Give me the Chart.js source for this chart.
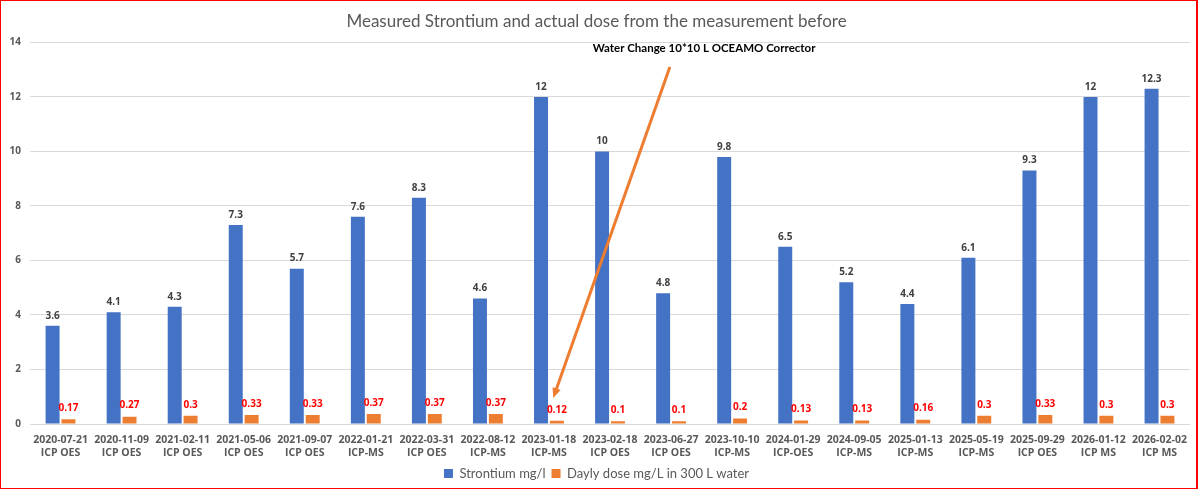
<!DOCTYPE html>
<html>
<head>
<meta charset="utf-8">
<script src="https://cdn.jsdelivr.net/npm/chart.js@4"></script>
<style>
  html, body { margin: 0; padding: 0; background: #fff; }
  #wrap {
    position: relative; width: 1195px; height: 487px;
    border: 1px solid #ff0000; border-right-width: 2px;
  }
</style>
</head>
<body>
<div id="wrap"><canvas id="chart"></canvas></div>
<script>
const dates = ["2020-07-21", "2020-11-09", "2021-02-11", "2021-05-06", "2021-09-07",
  "2022-01-21", "2022-03-31", "2022-08-12", "2023-01-18", "2023-02-18",
  "2023-06-27", "2023-10-10", "2024-01-29", "2024-09-05", "2025-01-13",
  "2025-05-19", "2025-09-29", "2026-01-12", "2026-02-02"];
const methods = ["ICP OES", "ICP OES", "ICP OES", "ICP OES", "ICP OES",
  "ICP-MS", "ICP OES", "ICP-MS", "ICP-MS", "ICP OES",
  "ICP OES", "ICP-MS", "ICP-OES", "ICP-MS", "ICP-MS",
  "ICP-MS", "ICP OES", "ICP MS", "ICP MS"];
const strontium = [3.6, 4.1, 4.3, 7.3, 5.7, 7.6, 8.3, 4.6, 12, 10, 4.8, 9.8, 6.5, 5.2, 4.4, 6.1, 9.3, 12, 12.3];
const dailyDose = [0.17, 0.27, 0.3, 0.33, 0.33, 0.37, 0.37, 0.37, 0.12, 0.1, 0.1, 0.2, 0.13, 0.13, 0.16, 0.3, 0.33, 0.3, 0.3];

// annotation, in data units (category index, y value)
const noteText = "Water Change 10*10 L OCEAMO Corrector";
const notePos = [10.54, 13.78];
const arrowFrom = [9.98, 13.1];
const arrowTo = [8.07, 0.95];

const labels = dates.map((d, i) => [d, methods[i]]);
const boldFont = "'Open Sans', 'Liberation Sans', sans-serif";

const valueLabels = {
  id: "valueLabels",
  afterDatasetsDraw(chart) {
    const ctx = chart.ctx;
    ctx.save();
    ctx.textAlign = "center";
    ctx.textBaseline = "bottom";
    chart.data.datasets.forEach((ds, di) => {
      const meta = chart.getDatasetMeta(di);
      ctx.font = "bold 10px " + boldFont;
      ctx.fillStyle = di === 0 ? "#404040" : "#ff0000";
      meta.data.forEach((bar, i) => {
        ctx.fillText(String(ds.data[i]), bar.x, bar.y - (di === 0 ? 5 : 6));
      });
    });
    ctx.restore();
  }
};

const arrowNote = {
  id: "arrowNote",
  afterDraw(chart) {
    const { ctx, scales: { x, y } } = chart;
    const px = (v) => x.getPixelForValue(v);
    ctx.save();
    ctx.font = "bold 11.5px Lato, 'Liberation Sans', sans-serif";
    ctx.fillStyle = "#000";
    ctx.textAlign = "center";
    ctx.textBaseline = "middle";
    ctx.fillText(noteText, px(notePos[0]), y.getPixelForValue(notePos[1]));

    const x1 = px(arrowFrom[0]), y1 = y.getPixelForValue(arrowFrom[1]);
    const x2 = px(arrowTo[0]), y2 = y.getPixelForValue(arrowTo[1]);
    const ang = Math.atan2(y2 - y1, x2 - x1);
    const head = 11;
    ctx.strokeStyle = "#ed7d31";
    ctx.fillStyle = "#ed7d31";
    ctx.lineWidth = 3;
    ctx.beginPath();
    ctx.moveTo(x1, y1);
    ctx.lineTo(x2 - Math.cos(ang) * head * 0.8, y2 - Math.sin(ang) * head * 0.8);
    ctx.stroke();
    ctx.beginPath();
    ctx.moveTo(x2, y2);
    ctx.lineTo(x2 - head * Math.cos(ang - 0.4), y2 - head * Math.sin(ang - 0.4));
    ctx.lineTo(x2 - head * Math.cos(ang + 0.4), y2 - head * Math.sin(ang + 0.4));
    ctx.closePath();
    ctx.fill();
    ctx.restore();
  }
};

new Chart(document.getElementById("chart"), {
  type: "bar",
  data: {
    labels: labels,
    datasets: [
      {
        label: "Strontium mg/l",
        data: strontium,
        backgroundColor: "#4472c4",
        barPercentage: 0.88,
        categoryPercentage: 0.52
      },
      {
        label: "Dayly dose mg/L in 300 L water",
        data: dailyDose,
        backgroundColor: "#ed7d31",
        barPercentage: 0.88,
        categoryPercentage: 0.52
      }
    ]
  },
  options: {
    responsive: true,
    maintainAspectRatio: false,
    animation: false,
    layout: { padding: { left: 0, right: 4, top: 4, bottom: -2 } },
    plugins: {
      title: {
        display: true,
        text: "Measured Strontium and actual dose from the measurement before",
        color: "#595959",
        font: { family: "Lato, 'Liberation Sans', sans-serif", size: 17, weight: "normal" },
        padding: { top: 6, bottom: 11 }
      },
      legend: {
        position: "bottom",
        labels: {
          color: "#595959",
          boxWidth: 9,
          boxHeight: 9,
          padding: 6,
          font: { family: "Lato, 'Liberation Sans', sans-serif", size: 13 }
        }
      },
      tooltip: { enabled: false }
    },
    scales: {
      x: {
        grid: { display: false, drawTicks: false },
        border: { display: false },
        afterFit: (scale) => { scale.height = 37; },
        ticks: {
          color: "#595959",
          maxRotation: 0,
          autoSkip: false,
          padding: 9,
          font: { family: boldFont, size: 10.5, weight: "bold", lineHeight: 1.3 }
        }
      },
      y: {
        min: 0,
        max: 14,
        afterFit: (scale) => { scale.width = 29; },
        ticks: {
          stepSize: 2,
          color: "#595959",
          padding: 9,
          font: { family: boldFont, size: 10, weight: "bold" }
        },
        grid: { color: "#d9d9d9", drawTicks: false },
        border: { display: false }
      }
    }
  },
  plugins: [valueLabels, arrowNote]
});
</script>
</body>
</html>
